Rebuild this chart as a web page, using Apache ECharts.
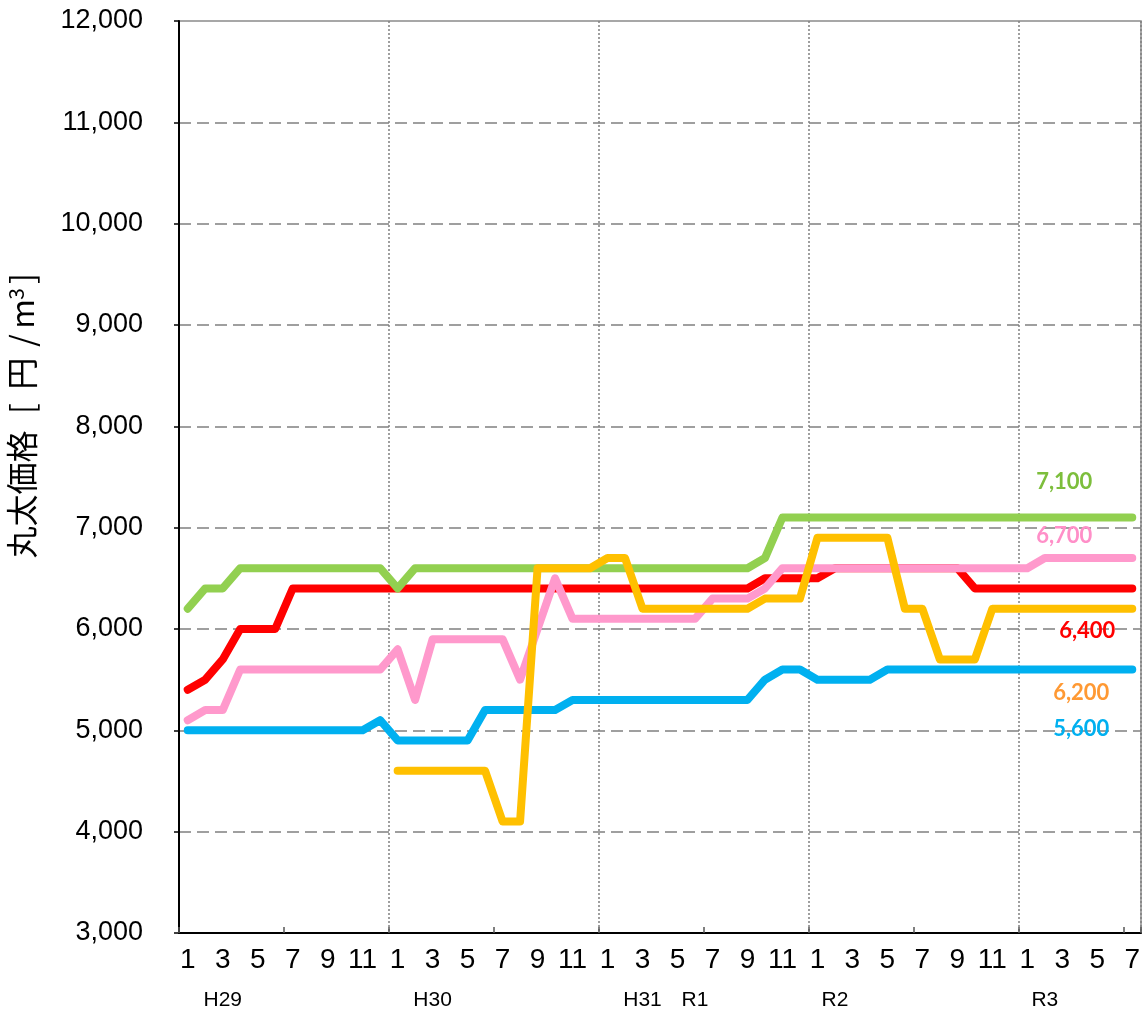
<!DOCTYPE html>
<html>
<head>
<meta charset="utf-8">
<script src="https://cdn.jsdelivr.net/npm/echarts@6/dist/echarts.min.js"></script>
<style>html,body{margin:0;padding:0;background:#fff}#c{width:1146px;height:1018px}</style>
</head>
<body>
<div id="c"></div>
<script>
// Month tick labels, H29.1 (2017/1) .. R3.7 (2021/7)
const months = [
  '1','2','3','4','5','6','7','8','9','10','11','12',
  '1','2','3','4','5','6','7','8','9','10','11','12',
  '1','2','3','4','5','6','7','8','9','10','11','12',
  '1','2','3','4','5','6','7','8','9','10','11','12',
  '1','2','3','4','5','6','7'
];
// Era labels and the month index each one sits under
const eraNames = ['H29', 'H30', 'H31', 'R1', 'R2', 'R3'];
const eraIndex = [2, 14, 26, 29, 37, 49];

const seriesNames = ['系列A', '系列B', '系列C', '系列D', '系列E'];

const redValues = [
  5400,5500,5700,6000,6000,6000,6400,6400,6400,6400,6400,6400,
  6400,6400,6400,6400,6400,6400,6400,6400,6400,6400,6400,6400,
  6400,6400,6400,6400,6400,6400,6400,6400,6400,6500,6500,6500,
  6500,6600,6600,6600,6600,6600,6600,6600,6600,6400,6400,6400,
  6400,6400,6400,6400,6400,6400,6400
];
const greenValues = [
  6200,6400,6400,6600,6600,6600,6600,6600,6600,6600,6600,6600,
  6400,6600,6600,6600,6600,6600,6600,6600,6600,6600,6600,6600,
  6600,6600,6600,6600,6600,6600,6600,6600,6600,6700,7100,7100,
  7100,7100,7100,7100,7100,7100,7100,7100,7100,7100,7100,7100,
  7100,7100,7100,7100,7100,7100,7100
];
const pinkValues = [
  5100,5200,5200,5600,5600,5600,5600,5600,5600,5600,5600,5600,
  5800,5300,5900,5900,5900,5900,5900,5500,6000,6500,6100,6100,
  6100,6100,6100,6100,6100,6100,6300,6300,6300,6400,6600,6600,
  6600,6600,6600,6600,6600,6600,6600,6600,6600,6600,6600,6600,
  6600,6700,6700,6700,6700,6700,6700
];
const blueValues = [
  5000,5000,5000,5000,5000,5000,5000,5000,5000,5000,5000,5100,
  4900,4900,4900,4900,4900,5200,5200,5200,5200,5200,5300,5300,
  5300,5300,5300,5300,5300,5300,5300,5300,5300,5500,5600,5600,
  5500,5500,5500,5500,5600,5600,5600,5600,5600,5600,5600,5600,
  5600,5600,5600,5600,5600,5600,5600
];
const yellowValues = [
  null,null,null,null,null,null,null,null,null,null,null,null,
  4600,4600,4600,4600,4600,4600,4100,4100,6600,6600,6600,6600,
  6700,6700,6200,6200,6200,6200,6200,6200,6200,6300,6300,6300,
  6900,6900,6900,6900,6900,6200,6200,5700,5700,5700,6200,6200,
  6200,6200,6200,6200,6200,6200,6200
];

const yTicks = { min: 3000, max: 12000, interval: 1000 };

const lineColors = ['#FF0000', '#92D050', '#FF99CC', '#00B0F0', '#FFC000'];
const labelColors = ['#FF0000', '#7DBE3C', '#FF8FC8', '#00B0F0', '#FF9933'];
const labelOffsets = [[-45, 42], [-68, -36], [-68, -22], [-51, 59], [-51, 84]];
const allValues = [redValues, greenValues, pinkValues, blueValues, yellowValues];

const fmt = v => Number(v).toLocaleString('en-US');

const series = allValues.map((vals, k) => ({
  name: seriesNames[k],
  type: 'line',
  data: vals,
  symbol: 'none',
  connectNulls: false,
  lineStyle: { color: lineColors[k], width: 8, cap: 'round', join: 'round' },
  itemStyle: { color: lineColors[k] },
  emphasis: { disabled: true },
  markPoint: {
    symbol: 'circle',
    symbolSize: 1,
    itemStyle: { color: 'rgba(0,0,0,0)' },
    silent: true,
    label: {
      show: true,
      position: 'inside',
      offset: labelOffsets[k],
      formatter: p => fmt(p.value),
      color: labelColors[k],
      fontSize: 22,
      fontWeight: 'bold',
      fontFamily: 'Lato, "Open Sans", sans-serif'
    },
    data: [{ coord: [vals.length - 1, vals[vals.length - 1]], value: vals[vals.length - 1] }]
  }
}));

const jp = '"Noto Sans CJK JP", sans-serif';
const tf = (extra) => Object.assign({ fontSize: 32, fontFamily: jp, color: '#000', align: 'center' }, extra);

const chart = echarts.init(document.getElementById('c'), null, { renderer: 'canvas' });
chart.setOption({
  animation: false,
  backgroundColor: '#ffffff',
  grid: {
    left: 179, right: 5, top: 21, bottom: 85,
    show: true, borderColor: '#8a8a8a', borderWidth: 1.5,
    outerBoundsMode: 'none'
  },
  xAxis: [
    {
      type: 'category',
      data: months,
      boundaryGap: true,
      position: 'bottom',
      axisLine: { show: true, lineStyle: { color: '#000', width: 2 } },
      axisTick: { show: true, inside: true, length: 6, interval: 5, lineStyle: { color: '#555', width: 1.5 } },
      axisLabel: {
        interval: 1, margin: 13, color: '#000', fontSize: 28,
        fontFamily: '"Liberation Sans Narrow", "Arial Narrow", "Liberation Sans", sans-serif'
      },
      splitLine: { show: true, interval: 11, lineStyle: { color: '#808080', width: 1.5, type: [2, 2] } }
    },
    {
      type: 'category',
      data: months,
      boundaryGap: true,
      position: 'bottom',
      axisLine: { show: false },
      axisTick: { show: false },
      splitLine: { show: false },
      axisLabel: {
        interval: 0, margin: 57, color: '#000', fontSize: 21,
        fontFamily: '"Liberation Sans", Arial, sans-serif',
        formatter: (v, i) => {
          const j = eraIndex.indexOf(i);
          return j >= 0 ? eraNames[j] : '';
        }
      }
    }
  ],
  yAxis: {
    type: 'value',
    min: yTicks.min, max: yTicks.max, interval: yTicks.interval,
    name: '{c|丸太価格}{g1|}{b|[}{g2|}{c|円}{g3|}{sl|/}{g4|}{m|m}{s|3}{g5|}{b2|]}',
    nameLocation: 'middle',
    nameRotate: 90,
    nameGap: 141,
    nameTextStyle: {
      fontSize: 32, color: '#000', fontFamily: jp, padding: [0, 0, 0, 122],
      rich: {
        c: tf({}),
        b: tf({ width: 20 }),
        b2: tf({ width: 10 }),
        sl: tf({ width: 20 }),
        m: tf({ width: 27 }),
        s: tf({ fontSize: 21, width: 13, verticalAlign: 'top' }),
        g1: tf({ width: 12 }),
        g2: tf({ width: 9 }),
        g3: tf({ width: 7 }),
        g4: tf({ width: 3 }),
        g5: tf({ width: 4 })
      }
    },
    axisLine: { show: true, lineStyle: { color: '#000', width: 2 } },
    axisTick: { show: true, length: 5, lineStyle: { color: '#000', width: 1.5 } },
    axisLabel: {
      margin: 36, color: '#000', fontSize: 27,
      fontFamily: '"Liberation Sans", Arial, sans-serif',
      formatter: v => fmt(v)
    },
    splitLine: { show: true, showMinLine: false, showMaxLine: false, lineStyle: { color: '#808080', width: 1.5, type: [12, 6] } }
  },
  series: series
});
</script>
</body>
</html>
